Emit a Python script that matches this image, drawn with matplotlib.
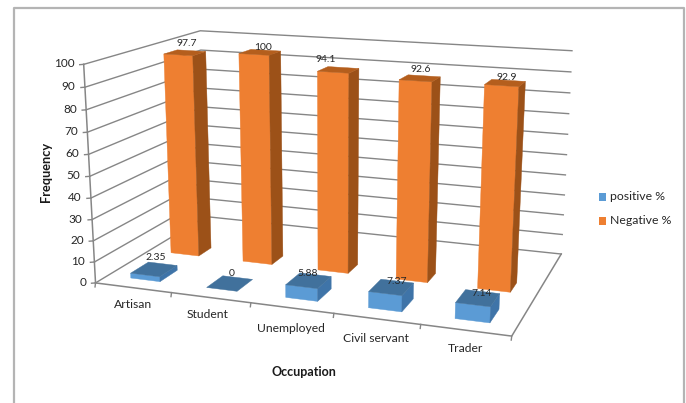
import numpy as np
import matplotlib
matplotlib.use("Agg")
import matplotlib.pyplot as plt
from matplotlib.patches import Polygon, Rectangle

categories = ["Artisan", "Student", "Unemployed", "Civil servant", "Trader"]
positive = [2.35, 0, 5.88, 7.37, 7.14]
negative = [97.7, 100, 94.1, 92.6, 92.9]
yticks = [0, 10, 20, 30, 40, 50, 60, 70, 80, 90, 100]

plt.rcParams["font.family"] = ["Lato", "DejaVu Sans"]
TXT = "#262626"

# Fit a perspective camera: box corners (x, depth, z) -> canvas pixels
corners3 = np.array([[0,0,0],[1,0,0],[1,1,0],[0,1,0],[0,0,1],[0,1,1],[1,1,1]], float)
corners2 = np.array([[95,281.5],[512,337],[561,253],[206,218],[84,65],[200,30],[572,51]], float)
A, b = [], []
for (X, Y, Z), (u, v) in zip(corners3, corners2):
    A.append([X, Y, Z, 1, 0, 0, 0, 0, -u*X, -u*Y, -u*Z]); b.append(u)
    A.append([0, 0, 0, 0, X, Y, Z, 1, -v*X, -v*Y, -v*Z]); b.append(v)
P = np.append(np.linalg.lstsq(np.array(A), np.array(b), rcond=None)[0], 1).reshape(3, 4)

def proj(x, d, val):
    h = P @ np.array([x, d, val / 100.0, 1.0])
    return h[0] / h[2], h[1] / h[2]

fig = plt.figure(figsize=(6.86, 4.03), dpi=100, facecolor="white")
ax = fig.add_axes([0, 0, 1, 1])
ax.set_xlim(0, 686); ax.set_ylim(403, 0); ax.axis("off")

# outer frame (no bottom edge)
ax.plot([13.5, 13.5, 684, 684], [403, 8, 8, 403], color="#b4b4b4", lw=1.6, zorder=1)

GRID = "#868686"
for t in yticks:
    pts = [proj(0, 0, t), proj(0, 1, t), proj(1, 1, t)]
    ax.plot(*zip(*pts), color=GRID, lw=1.0, zorder=2, solid_joinstyle="miter")
    x0, y0 = pts[0]
    ax.plot([x0 - 4, x0], [y0 + 0.3, y0], color=GRID, lw=1.0, zorder=2)
    ax.text(x0 - 9.5, y0 - 0.5, str(t), ha="right", va="center", fontsize=8.5, color=TXT, zorder=8)
ax.plot(*zip(proj(0, 0, 0), proj(0, 0, 100)), color=GRID, lw=1.1, zorder=2)
ax.plot(*zip(proj(0, 0, 0), proj(1, 0, 0), proj(1, 1, 0)), color=GRID, lw=1.1, zorder=2)
for i in range(6):
    x0, y0 = proj(i / 5, 0, 0)
    ax.plot([x0, x0 - 0.5], [y0, y0 + 4], color=GRID, lw=1.0, zorder=2)

def bar(cx, d0, d1, val, cf, cs, ct, z):
    hw = 0.039
    x0, x1 = cx - hw, cx + hw
    top = [proj(x0, d0, val), proj(x1, d0, val), proj(x1, d1, val), proj(x0, d1, val)]
    if val > 0:
        front = [proj(x0, d0, 0), proj(x1, d0, 0), proj(x1, d0, val), proj(x0, d0, val)]
        side = [proj(x1, d0, 0), proj(x1, d1, 0), proj(x1, d1, val), proj(x1, d0, val)]
        ax.add_patch(Polygon(front, fc=cf, ec=cf, lw=0.3, zorder=z))
        ax.add_patch(Polygon(side, fc=cs, ec=cs, lw=0.3, zorder=z))
    ax.add_patch(Polygon(top, fc=ct, ec=ct, lw=0.3, zorder=z))

OR = ("#ee7f31", "#9c5118", "#b45e1d")
BL = ("#5b9bd5", "#3f74a8", "#41719c")
centers = [(i + 0.5) / 5 for i in range(5)]
for i in range(5):
    bar(centers[i], 0.45, 0.57, negative[i], *OR, 3 + 0.01 * i)
for i in range(5):
    bar(centers[i], 0.10, 0.25, positive[i], *BL, 4 + 0.01 * i)

# data labels
neg_pos = [(187, 43), (263, 48), (326, 59), (421, 69), (507, 78)]
pos_pos = [(156, 258), (232, 273), (308, 274), (397, 281), (482, 293)]
for i in range(5):
    ax.text(*neg_pos[i], str(negative[i]), ha="center", va="center", fontsize=7.5, color=TXT, zorder=8)
    ax.text(*pos_pos[i], str(positive[i]), ha="center", va="center", fontsize=7.5, color=TXT, zorder=8)

cat_pos = [(133, 305), (208, 315), (291, 328), (376, 339), (465, 349)]
for c, p in zip(categories, cat_pos):
    ax.text(*p, c, ha="center", va="center", fontsize=8.7, color=TXT, zorder=8)

ax.text(304, 372, "Occupation", ha="center", va="center", fontsize=9, fontweight="bold", color="#1a1a1a")
ax.text(46, 172, "Frequency", ha="center", va="center", rotation=90, fontsize=9.2, fontweight="bold", color="#1a1a1a")

ax.add_patch(Rectangle((598.5, 193), 7.5, 7.5, fc="#5b9bd5", ec="none"))
ax.add_patch(Rectangle((598.5, 217), 7.5, 7.5, fc="#ee7f31", ec="none"))
ax.text(609.5, 196.5, "positive %", ha="left", va="center", fontsize=8.8, color=TXT)
ax.text(609.5, 220.5, "Negative %", ha="left", va="center", fontsize=8.8, color=TXT)

fig.savefig("out.png", dpi=100)
